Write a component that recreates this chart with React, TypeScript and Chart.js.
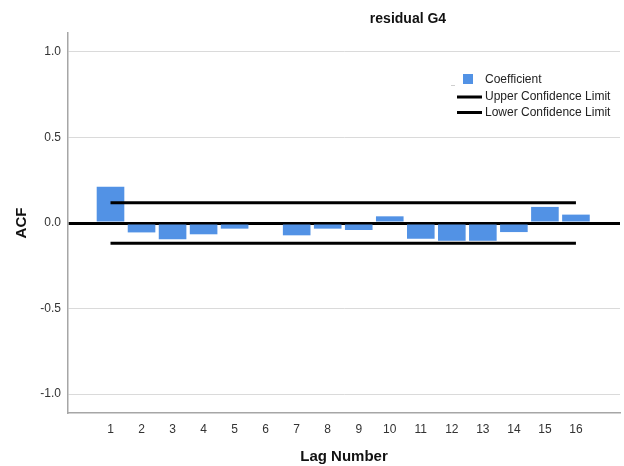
import React, { useEffect, useRef } from "react";
import { Chart, registerables } from "chart.js";

Chart.register(...registerables);

const lags = [1, 2, 3, 4, 5, 6, 7, 8, 9, 10, 11, 12, 13, 14, 15, 16];
const coefficient = [0.212, -0.055, -0.095, -0.066, -0.033, 0.0, -0.072, -0.033, -0.041, 0.039, -0.092, -0.104, -0.104, -0.053, 0.094, 0.049];
const upperLimit = [0.118, 0.118, 0.118, 0.118, 0.118, 0.118, 0.118, 0.118, 0.118, 0.118, 0.118, 0.118, 0.118, 0.118, 0.118, 0.118];
const lowerLimit = [-0.118, -0.118, -0.118, -0.118, -0.118, -0.118, -0.118, -0.118, -0.118, -0.118, -0.118, -0.118, -0.118, -0.118, -0.118, -0.118];
const yTickValues = [-1.0, -0.5, 0.0, 0.5, 1.0];

const titleText = "residual G4";
const xTitle = "Lag Number";
const yTitle = "ACF";
const legendLabels = ["Coefficient", "Upper Confidence Limit", "Lower Confidence Limit"];

const FONT = "'Liberation Sans', Arial, sans-serif";
const BAR_COLOR = "rgb(82,146,229)";

const overlayPlugin = {
  id: "overlay",
  afterDraw(chart: any) {
    const ctx = chart.ctx;
    const area = chart.chartArea;
    ctx.save();
    // title
    ctx.fillStyle = "#111";
    ctx.font = `bold 14px ${FONT}`;
    ctx.textAlign = "center";
    ctx.textBaseline = "middle";
    ctx.fillText(titleText, 408, 19);
    // axis titles
    ctx.font = `bold 15px ${FONT}`;
    ctx.fillText(xTitle, (area.left + area.right) / 2, 457);
    ctx.save();
    ctx.translate(22, chart.scales.y.getPixelForValue(0));
    ctx.rotate(-Math.PI / 2);
    ctx.fillText(yTitle, 0, 0);
    ctx.restore();
    // legend
    ctx.strokeStyle = "#cfcfcf";
    ctx.lineWidth = 1;
    ctx.beginPath();
    ctx.moveTo(451, 85.5);
    ctx.lineTo(455, 85.5);
    ctx.stroke();
    ctx.fillStyle = BAR_COLOR;
    ctx.fillRect(463, 74, 10, 10);
    ctx.strokeStyle = "#000";
    ctx.lineWidth = 3;
    ctx.beginPath();
    ctx.moveTo(457, 97);
    ctx.lineTo(482, 97);
    ctx.moveTo(457, 112.5);
    ctx.lineTo(482, 112.5);
    ctx.stroke();
    ctx.fillStyle = "#222";
    ctx.font = `12px ${FONT}`;
    ctx.textAlign = "left";
    ctx.fillText(legendLabels[0], 485, 80);
    ctx.fillText(legendLabels[1], 485, 97);
    ctx.fillText(legendLabels[2], 485, 113);
    ctx.restore();
  },
};

export default function App() {
  const ref = useRef<HTMLCanvasElement | null>(null);
  useEffect(() => {
    if (!ref.current) return;
    const chart = new Chart(ref.current, {
      type: "bar",
      data: {
        datasets: [
          {
            type: "line",
            label: legendLabels[1],
            data: lags.map((x, i) => ({ x, y: upperLimit[i] })),
            borderColor: "#000",
            borderWidth: 3,
            pointRadius: 0,
            fill: false,
            order: 0,
          } as any,
          {
            type: "line",
            label: legendLabels[2],
            data: lags.map((x, i) => ({ x, y: lowerLimit[i] })),
            borderColor: "#000",
            borderWidth: 3,
            pointRadius: 0,
            fill: false,
            order: 0,
          } as any,
          {
            type: "bar",
            label: legendLabels[0],
            data: lags.map((x, i) => ({ x, y: coefficient[i] })),
            backgroundColor: BAR_COLOR,
            borderWidth: 0,
            barPercentage: 0.89,
            categoryPercentage: 1.0,
            order: 1,
          } as any,
        ],
      },
      options: {
        animation: false,
        responsive: false,
        layout: { padding: { top: 33, right: 4, left: 0, bottom: 0 } },
        plugins: {
          legend: { display: false },
          title: { display: false },
          tooltip: { enabled: false },
        },
        scales: {
          x: {
            type: "linear",
            offset: false,
            min: -0.37,
            max: 17.42,
            afterBuildTicks: (scale: any) => {
              scale.ticks = lags.map((v) => ({ value: v }));
            },
            afterFit: (scale: any) => {
              scale.height = 53;
            },
            grid: { display: false, drawTicks: false, offset: false },
            border: { display: true, color: "#a6a6a6", width: 1.5 },
            ticks: {
              autoSkip: false,
              maxRotation: 0,
              padding: 9,
              color: "#333",
              font: { family: FONT, size: 12 },
              callback: (v: any) => String(v),
            },
          },
          y: {
            type: "linear",
            min: -1.11,
            max: 1.11,
            afterBuildTicks: (scale: any) => {
              scale.ticks = yTickValues.map((v) => ({ value: v }));
            },
            afterFit: (scale: any) => {
              scale.width = 68;
            },
            grid: {
              drawTicks: false,
              color: (c: any) => (c.tick && c.tick.value === 0 ? "#000" : "#dadada"),
              lineWidth: (c: any) => (c.tick && c.tick.value === 0 ? 3 : 1),
            },
            border: { display: true, color: "#a6a6a6", width: 1.5 },
            ticks: {
              padding: 7,
              color: "#333",
              font: { family: FONT, size: 12 },
              callback: (v: any) => Number(v).toFixed(1),
            },
          },
        },
      },
      plugins: [overlayPlugin],
    });
    return () => chart.destroy();
  }, []);
  return (
    <div style={{ position: "fixed", left: 0, top: 0, width: 624, height: 466, background: "#fff" }}>
      <canvas ref={ref} width={624} height={466} />
    </div>
  );
}
